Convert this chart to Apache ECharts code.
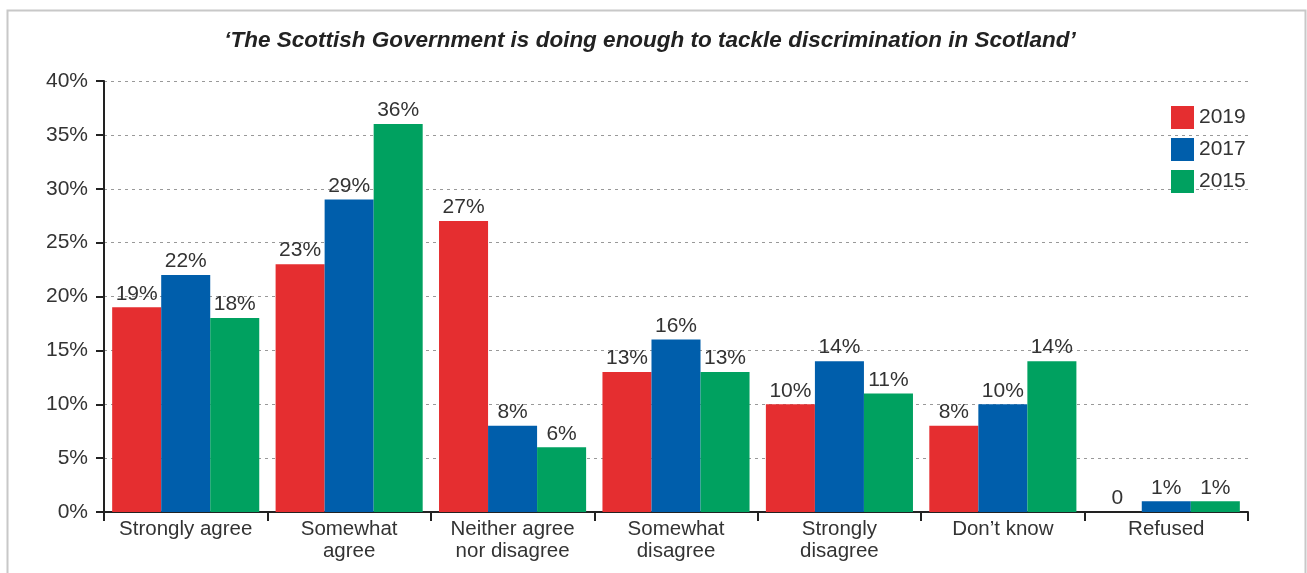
<!DOCTYPE html>
<html><head><meta charset="utf-8">
<script src="https://cdn.jsdelivr.net/npm/echarts@6/dist/echarts.min.js"></script>
<style>html,body{margin:0;padding:0;background:#fff}#c{width:1307px;height:573px}</style>
</head><body><div id="c"></div>
<script>
const categories = ['Strongly agree', 'Somewhat\nagree', 'Neither agree\nnor disagree', 'Somewhat\ndisagree', 'Strongly\ndisagree', 'Don\u2019t know', 'Refused'];
const seriesNames = ['2019', '2017', '2015'];
const values2019 = [19, 23, 27, 13, 10, 8, 0];
const values2017 = [22, 29, 8, 16, 14, 10, 1];
const values2015 = [18, 36, 6, 13, 11, 14, 1];
const yTicks = [0, 5, 10, 15, 20, 25, 30, 35, 40];
const colors = ['#E52E30', '#005EAB', '#00A160'];
const font = 'Liberation Sans, Arial, sans-serif';

const chart = echarts.init(document.getElementById('c'), null, {renderer: 'canvas'});
const data = [values2019, values2017, values2015];
chart.setOption({
  animation: false,
  textStyle: {fontFamily: font},
  title: {
    text: '\u2018The Scottish Government is doing enough to tackle discrimination in Scotland\u2019',
    left: 645, top: 24, textAlign: 'center',
    textStyle: {fontSize: 22.5, fontStyle: 'italic', fontWeight: 'bold', color: '#222', fontFamily: font}
  },
  graphic: [{
    type: 'rect', left: 5, top: 8, shape: {width: 1298, height: 580},
    style: {fill: 'none', stroke: '#c8c8c8', lineWidth: 2}, silent: true
  }],
  legend: {
    data: seriesNames, orient: 'vertical', left: 1166, top: 101,
    itemWidth: 23, itemHeight: 23, itemGap: 9, icon: 'rect',
    textStyle: {fontSize: 21, color: '#333', fontFamily: font}
  },
  grid: {left: 104, right: 59, top: 81, bottom: 61, containLabel: false},
  xAxis: {
    type: 'category', data: categories,
    axisLine: {lineStyle: {color: '#222', width: 2}},
    axisTick: {show: true, length: 9, lineStyle: {color: '#222', width: 2}},
    axisLabel: {fontSize: 20.5, color: '#333', margin: 6, lineHeight: 22, interval: 0, fontFamily: font}
  },
  yAxis: {
    type: 'value', min: 0, max: 40, interval: 5,
    axisLine: {show: true, lineStyle: {color: '#222', width: 2}},
    axisTick: {show: true, length: 8, lineStyle: {color: '#222', width: 2}},
    axisLabel: {fontSize: 21, color: '#333', margin: 16, fontFamily: font,
      formatter: v => yTicks.includes(v) ? v + '%' : ''},
    splitLine: {lineStyle: {color: '#999', type: [3, 4], width: 1.2}}
  },
  series: seriesNames.map((n, i) => ({
    name: n, type: 'bar', data: data[i], barGap: '0%', barCategoryGap: '10%',
    itemStyle: {color: colors[i]},
    label: {show: true, position: 'top', distance: 3, fontSize: 21, color: '#333', fontFamily: font,
      formatter: p => p.value === 0 ? '0' : p.value + '%'}
  }))
});
</script></body></html>
